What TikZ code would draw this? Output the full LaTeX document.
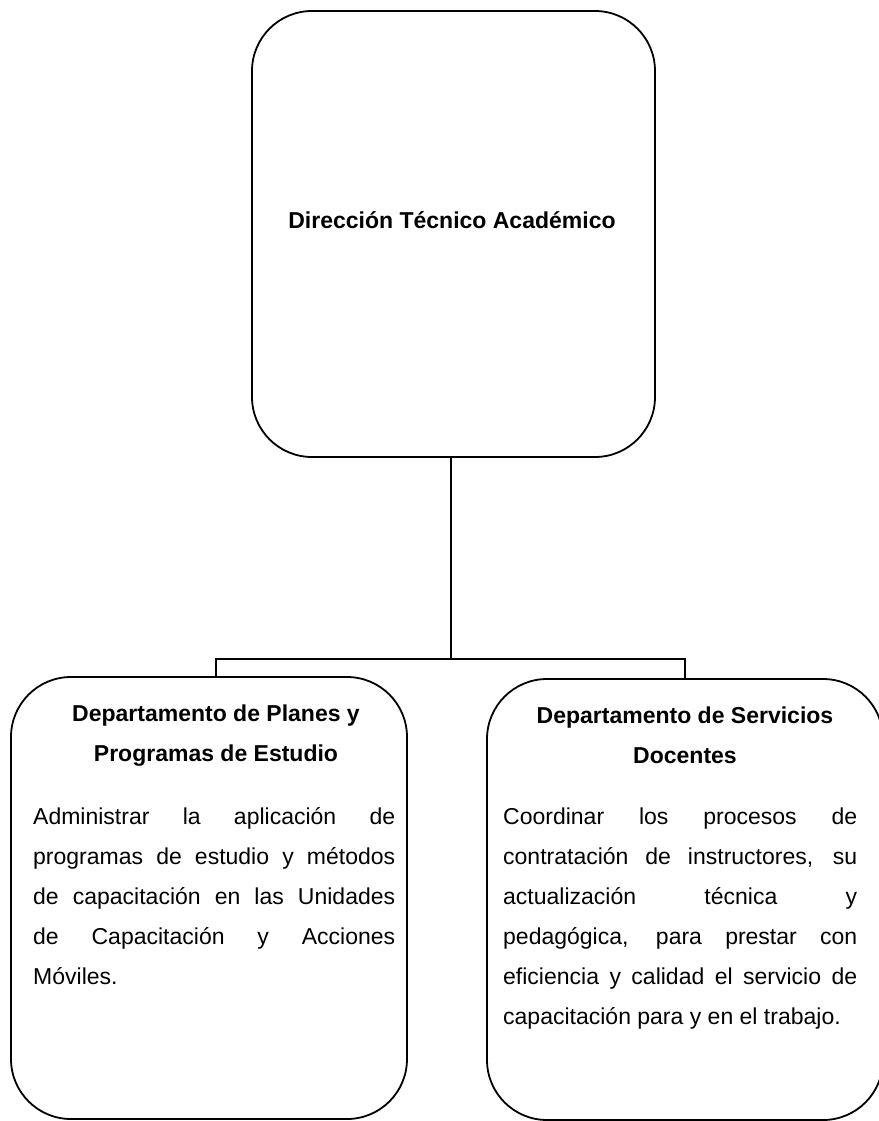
\documentclass[tikz,border=0pt]{standalone}
\usepackage{fontspec}
\setmainfont{Liberation Sans}
\begin{document}
\begin{tikzpicture}[x=1pt,y=-1pt,
  box/.style={draw, line width=1.8pt, rounded corners=60pt, inner sep=0pt},
  link/.style={line width=2.6pt},
  ttl/.style={font=\fontsize{23}{40}\bfseries\selectfont, align=center, inner sep=0pt},
  bodytxt/.style={font=\fontsize{23}{40}\selectfont, align=left, inner sep=0pt, anchor=north west}]
\useasboundingbox (0,0) rectangle (878,1121);
% boxes
\node[box, minimum width=403pt, minimum height=446pt] (top) at (453.5,234) {};
\node[box, minimum width=396pt, minimum height=442pt] (left) at (209,898) {};
\node[box, minimum width=396pt, minimum height=441pt] (right) at (685,899.5) {};
% connectors
\coordinate (j) at (451,659);
\coordinate (la) at (216,659);
\coordinate (ra) at (685,659);
\draw[link] (top.south -| j) -- (j);
\draw[link, line cap=rect] (la |- left.north) -- (la) -- (ra) -- (ra |- right.north);
% texts
\node[ttl, anchor=base] (toptxt) at (452,228) {Dirección Técnico Académico};
\node[ttl, anchor=north] (lhead) at (216,703) {\rule{0pt}{18pt}Departamento de Planes y\\Programas de Estudio};
\node[ttl, anchor=north] (rhead) at (685,705) {\rule{0pt}{18pt}Departamento de Servicios\\Docentes};
\node[bodytxt, text width=362pt] (lbody) at (33,806) {\spaceskip=0pt\xspaceskip=0pt\rule{0pt}{18pt}\makebox[362pt][s]{Administrar la aplicación de}\\
\makebox[362pt][s]{programas de estudio y métodos}\\
\makebox[362pt][s]{de capacitación en las Unidades}\\
\makebox[362pt][s]{de Capacitación y Acciones}\\
Móviles.};
\node[bodytxt, text width=354pt] (rbody) at (503,806) {\spaceskip=0pt\xspaceskip=0pt\rule{0pt}{18pt}\makebox[354pt][s]{Coordinar los procesos de}\\
\makebox[354pt][s]{contratación de instructores, su}\\
\makebox[354pt][s]{actualización técnica y}\\
\makebox[354pt][s]{pedagógica, para prestar con}\\
\makebox[354pt][s]{eficiencia y calidad el servicio de}\\
capacitación para y en el trabajo.};
\end{tikzpicture}
\end{document}
